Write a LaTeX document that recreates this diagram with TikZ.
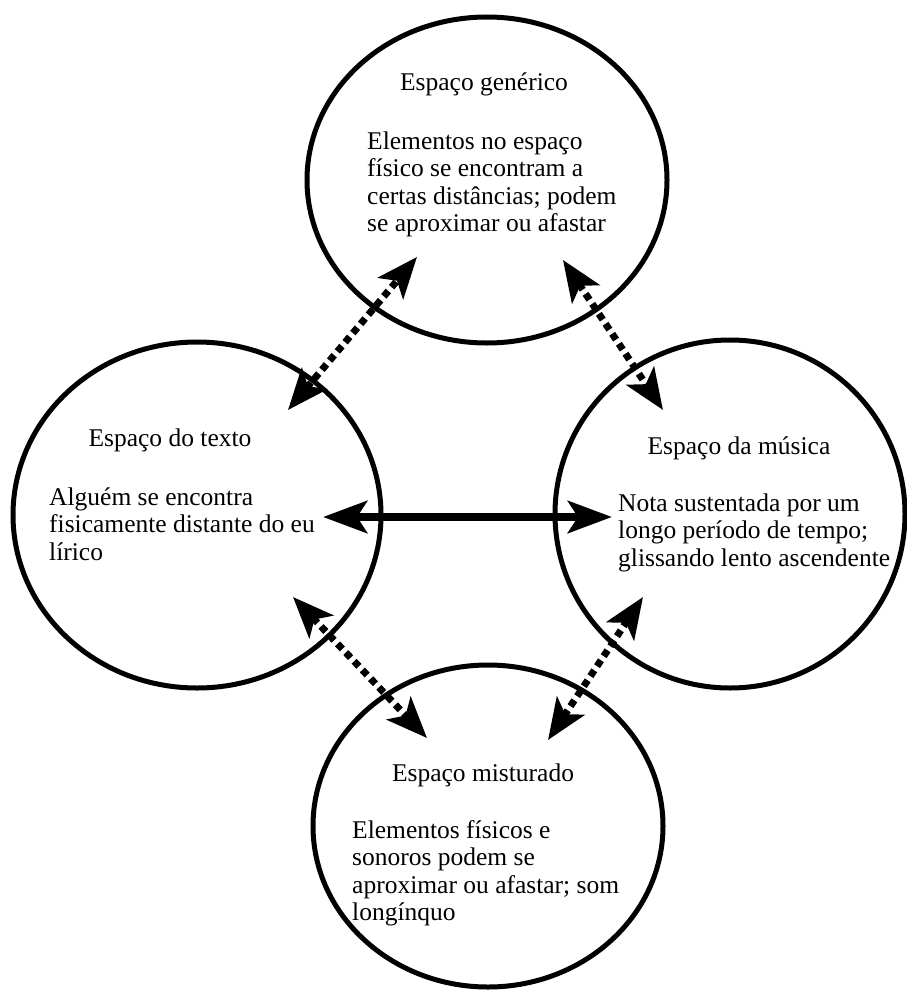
\documentclass[tikz,border=0pt]{standalone}
\usepackage{fontspec}
\setmainfont{Liberation Serif}
\usetikzlibrary{shapes.geometric,arrows.meta}

\tikzset{
  space/.style={ellipse, draw, line width=5pt, inner sep=0pt},
  title/.style={anchor=base, inner sep=0pt, font=\fontsize{25.5}{27.5}\selectfont},
  % anchored at the baseline of the last line
  body/.style={anchor=base west, align=left, inner sep=0pt, font=\fontsize{25.5}{27.5}\selectfont},
  dotlink/.style={line width=7pt, dash pattern=on 7pt off 5pt,
    {Stealth[length=41pt, width=33pt, inset=10pt]}-{Stealth[length=41pt, width=33pt, inset=10pt]}},
  solidlink/.style={line width=8pt,
    {Stealth[length=44pt, width=32pt, inset=10pt]}-{Stealth[length=44pt, width=32pt, inset=10pt]}}
}

\begin{document}
\begin{tikzpicture}[x=1pt, y=-1pt]
\useasboundingbox (0,0) rectangle (907,990);

% the four spaces
\node[space, minimum width=360pt, minimum height=326pt] (gen) at (487,180) {};
\node[space, minimum width=368pt, minimum height=346pt] (txt) at (197,515) {};
\node[space, minimum width=350pt, minimum height=348pt] (mus) at (730,514) {};
\node[space, minimum width=350pt, minimum height=322pt] (mix) at (488,826) {};

% titles
\node[title] (genT) at (484,90) {Espaço genérico};
\node[title] (txtT) at (170,446) {Espaço do texto};
\node[title] (musT) at (739,454) {Espaço da música};
\node[title] (mixT) at (483,781) {Espaço misturado};

% descriptions
\node[body] (genB) at (367,231.5) {Elementos no espaço\\físico se encontram a\\certas distâncias; podem\\se aproximar ou afastar};
\node[body] (txtB) at (49,560) {Alguém se encontra\\fisicamente distante do eu\\lírico};
\node[body] (musB) at (618,566) {Nota sustentada por um\\longo período de tempo;\\glissando lento ascendente};
\node[body] (mixB) at (352,920.5) {Elementos físicos e\\sonoros podem se\\aproximar ou afastar; som\\longínquo};

% link end points
\coordinate (gtA) at (417,257);
\coordinate (gtB) at (288,410);
\coordinate (gmA) at (563,260);
\coordinate (gmB) at (663,410);
\coordinate (tmA) at (293,597);
\coordinate (tmB) at (427,738);
\coordinate (mmA) at (643,597);
\coordinate (mmB) at (548,740);
\coordinate (hA) at (323,517);
\coordinate (hB) at (612,517);

% links between the spaces
\draw[dotlink] (gtB) -- (gtA);
\draw[dotlink] (gmA) -- (gmB);
\draw[dotlink] (tmA) -- (tmB);
\draw[dotlink] (mmB) -- (mmA);
\draw[solidlink] (hA) -- (hB);
\end{tikzpicture}
\end{document}
